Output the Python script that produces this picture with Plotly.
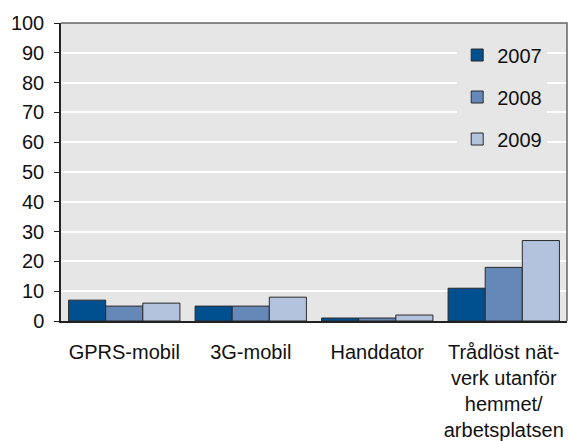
import plotly.graph_objects as go

categories = ["GPRS-mobil", "3G-mobil", "Handdator",
              "Trådlöst nät-<br>verk utanför<br>hemmet/<br>arbetsplatsen"]
years = ["2007", "2008", "2009"]
values_2007 = [7, 5, 1, 11]
values_2008 = [5, 5, 1, 18]
values_2009 = [6, 8, 2, 27]
y_ticks = [0, 10, 20, 30, 40, 50, 60, 70, 80, 90, 100]

colors = ["#00508f", "#6688b8", "#b3c3dd"]
series = [values_2007, values_2008, values_2009]

fig = go.Figure()
for name, vals, col in zip(years, series, colors):
    fig.add_trace(go.Bar(
        x=categories, y=vals, name=name, legendgroup=name,
        marker=dict(color=col, line=dict(color="#2a2a2a", width=1)),
    ))

FONT = "Liberation Sans, Arial, sans-serif"
fig.update_layout(
    width=569, height=441,
    margin=dict(l=61, r=2, t=23, b=120),
    paper_bgcolor="white", plot_bgcolor="#e6e6e6",
    barmode="group", bargap=0.12, bargroupgap=0,
    font=dict(family=FONT, size=20, color="#111111"),
    showlegend=True,
    legend=dict(x=0.783, y=0.958, xanchor="left", yanchor="top",
                bgcolor="#e6e6e6", borderwidth=0, tracegroupgap=13,
                font=dict(size=20), itemwidth=30),
    xaxis=dict(showgrid=False, showline=True, linecolor="#222222", linewidth=1.5,
               ticks="", ticklabelstandoff=12, tickfont=dict(size=20),
               automargin=False),
    yaxis=dict(range=[0, 100], tickvals=y_ticks, showgrid=True, gridcolor="white",
               gridwidth=2, showline=True, linecolor="#222222", linewidth=1.5,
               ticks="outside", ticklen=5, tickcolor="#222222",
               ticklabelstandoff=6, zeroline=False, tickfont=dict(size=20),
               automargin=False),
    shapes=[dict(type="path", xref="paper", yref="paper",
                 path="M 0 1 L 1 1 L 1 0", line=dict(color="#666666", width=1.5))],
)

fig.write_html("out.html", config={"displayModeBar": False},
               post_script="document.body.style.margin='0';document.body.style.padding='0';")
